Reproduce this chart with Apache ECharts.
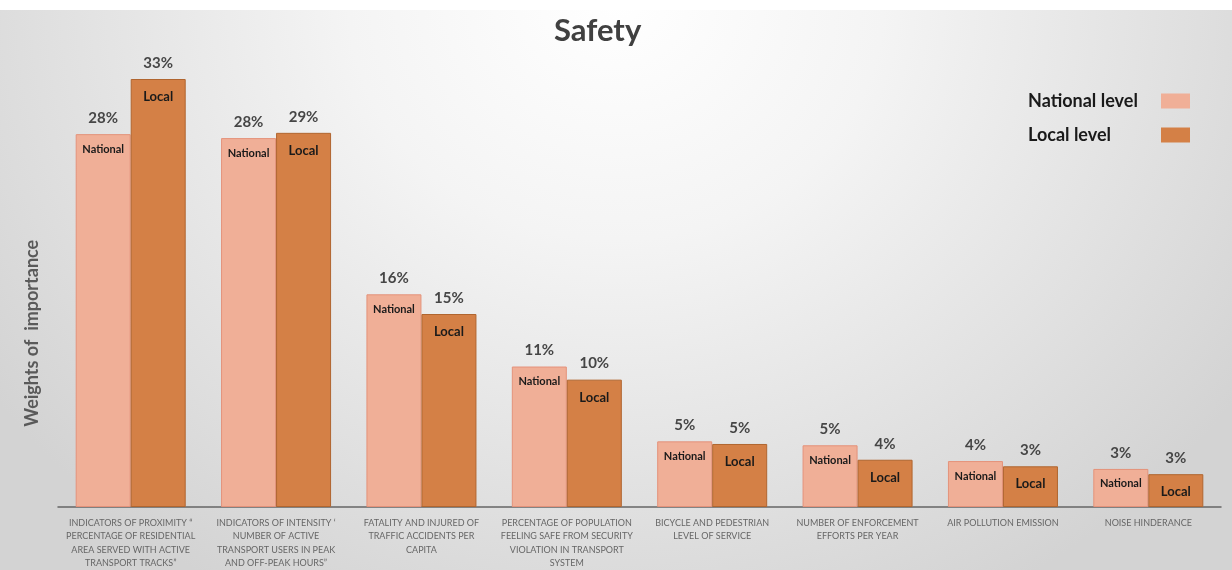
<!DOCTYPE html>
<html>
<head>
<meta charset="utf-8">
<script src="https://cdn.jsdelivr.net/npm/echarts@6/dist/echarts.min.js"></script>
<style>
  html, body { margin: 0; padding: 0; background: #fff; }
  #chart {
    width: 1232px; height: 570px;
    background: radial-gradient(ellipse 62% 120% at 50% 0%, #ffffff 0%, #f4f4f4 35%, #d3d3d3 100%);
  }
</style>
</head>
<body>
<div id="chart"></div>
<script>
const categories = [
    'INDICATORS OF PROXIMITY \u201C\nPERCENTAGE OF RESIDENTIAL\nAREA SERVED WITH ACTIVE\nTRANSPORT TRACKS\u201D',
    'INDICATORS OF INTENSITY \u2018\nNUMBER OF ACTIVE\nTRANSPORT USERS IN PEAK\nAND OFF-PEAK HOURS\u201D',
    'FATALITY AND INJURED OF\nTRAFFIC ACCIDENTS PER\nCAPITA',
    'PERCENTAGE OF POPULATION\nFEELING SAFE FROM SECURITY\nVIOLATION IN TRANSPORT\nSYSTEM',
    'BICYCLE AND PEDESTRIAN\nLEVEL OF SERVICE',
    'NUMBER OF ENFORCEMENT\nEFFORTS PER YEAR',
    'AIR POLLUTION EMISSION',
    'NOISE HINDERANCE'
];
// weights in %
const nationalValues = [28.4, 28.1, 16.2, 10.7, 5.0, 4.7, 3.5, 2.9];
const localValues = [32.6, 28.5, 14.7, 9.7, 4.8, 3.6, 3.1, 2.5];

const FONT = 'Lato, "Open Sans", sans-serif';

const chart = echarts.init(document.getElementById('chart'));

function barLabel(tag, tagSize, tagLine) {
    return {
        show: true,
        position: 'insideTop',
        distance: 0,
        offset: [0, -31],
        fontFamily: FONT,
        formatter: p => '{p|' + Math.round(p.value) + '%}\n{t|' + tag + '}',
        rich: {
            p: { fontSize: 15, fontWeight: 'bold', color: '#464646', lineHeight: 30, fontFamily: FONT },
            t: { fontSize: tagSize, fontWeight: 'bold', color: '#1a1a1a', lineHeight: tagLine, fontFamily: FONT }
        }
    };
}

chart.setOption({
    backgroundColor: 'transparent',
    title: {
        text: 'Safety',
        left: 549,
        top: 10,
        textStyle: { fontSize: 31, fontWeight: 'bold', color: '#404040', fontFamily: FONT }
    },
    graphic: [{
        type: 'rect', left: 0, top: 0, z: -10,
        shape: { width: 1232, height: 10 },
        style: { fill: '#fff' }
    }],
    legend: {
        orient: 'vertical',
        right: 37,
        top: 87,
        align: 'right',
        icon: 'rect',
        itemWidth: 29,
        itemHeight: 15,
        itemGap: 16,
        selectedMode: false,
        itemStyle: { borderWidth: 0 },
        formatter: name => '{a|' + name + '}',
        textStyle: {
            fontFamily: FONT,
            rich: {
                a: { width: 128, align: 'left', fontSize: 18, fontWeight: 'bold', color: '#1a1a1a', fontFamily: FONT }
            }
        },
        data: ['National level', 'Local level']
    },
    grid: { left: 58, right: 11, top: 47.5, bottom: 57 },
    xAxis: {
        type: 'category',
        data: categories,
        axisTick: { show: false },
        axisLine: { lineStyle: { color: '#666', width: 1.5 } },
        axisLabel: {
            interval: 0,
            margin: 9,
            fontSize: 9,
            lineHeight: 13.5,
            color: '#666',
            fontFamily: FONT
        }
    },
    yAxis: {
        type: 'value',
        min: 0,
        max: 35,
        name: 'Weights of  importance',
        nameLocation: 'middle',
        nameGap: 17,
        nameTextStyle: { fontSize: 18, fontWeight: 'bold', color: '#5a5a5a', fontFamily: FONT, padding: [0, 112, 0, 0] },
        axisLine: { show: false },
        axisTick: { show: false },
        axisLabel: { show: false },
        splitLine: { show: false }
    },
    series: [
        {
            name: 'National level',
            type: 'bar',
            data: nationalValues,
            barWidth: 55,
            barGap: '0%',
            itemStyle: { color: '#F0AF97', borderColor: '#E4927A', borderWidth: 1 },
            label: barLabel('National', 11, 32)
        },
        {
            name: 'Local level',
            type: 'bar',
            data: localValues,
            barWidth: 55,
            itemStyle: { color: '#D48046', borderColor: '#B0652F', borderWidth: 1 },
            label: barLabel('Local', 13, 38)
        }
    ]
});
</script>
</body>
</html>
